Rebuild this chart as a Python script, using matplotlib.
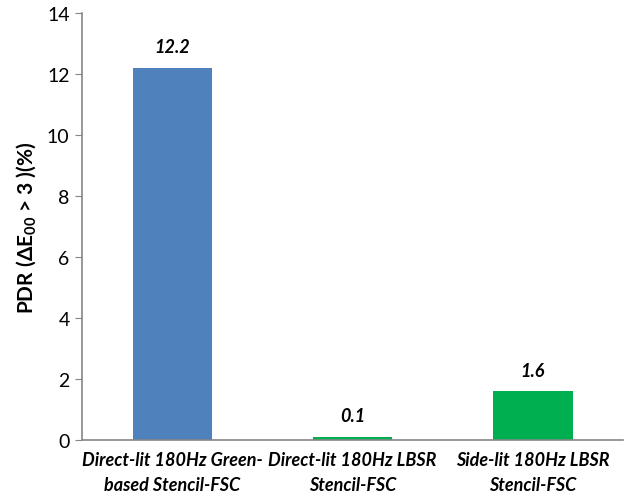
import matplotlib
matplotlib.use("Agg")
import matplotlib.pyplot as plt

categories = ["Direct-lit 180Hz Green-\nbased Stencil-FSC",
              "Direct-lit 180Hz LBSR\nStencil-FSC",
              "Side-lit 180Hz LBSR\nStencil-FSC"]
values = [12.2, 0.1, 1.6]
value_labels = ["12.2", "0.1", "1.6"]
bar_colors = ["#4F81BD", "#00B050", "#00B050"]
y_ticks = [0, 2, 4, 6, 8, 10, 12, 14]

fonts = ["Lato", "DejaVu Sans"]
plt.rcParams["font.family"] = fonts
plt.rcParams["mathtext.fontset"] = "custom"
plt.rcParams["mathtext.rm"] = "Lato"
plt.rcParams["mathtext.bf"] = "Lato:bold"

fig = plt.figure(figsize=(6.36, 5.02), dpi=100)
ax = fig.add_axes([0.129, 0.1215, 0.8506, 0.8506])

x = range(len(categories))
ax.bar(x, values, width=0.44, color=bar_colors)
for xi, v, lab in zip(x, values, value_labels):
    ax.annotate(lab, (xi, v), xytext=(0, 9), textcoords="offset points",
                ha="center", va="bottom", fontsize=13,
                fontweight="bold", fontstyle="italic")

ax.set_xlim(-0.5, len(categories) - 0.5)
ax.set_ylim(0, 14)
ax.set_yticks(y_ticks)
ax.set_xticks(list(x))
ax.set_xticklabels(categories, fontsize=13, fontweight="bold",
                   fontstyle="italic", linespacing=1.55)
ax.tick_params(axis="x", length=0, pad=8)
ax.tick_params(axis="y", length=5, color="#868686", labelsize=14, pad=4)

for s in ("top", "right"):
    ax.spines[s].set_visible(False)
for s in ("left", "bottom"):
    ax.spines[s].set_color("#868686")
    ax.spines[s].set_linewidth(1.2)

ax.set_ylabel(r"PDR (ΔE$_{\mathbf{00}}$ > 3 )(%)", fontsize=15,
              fontweight="bold", labelpad=6)

fig.savefig("out.png", dpi=100)
